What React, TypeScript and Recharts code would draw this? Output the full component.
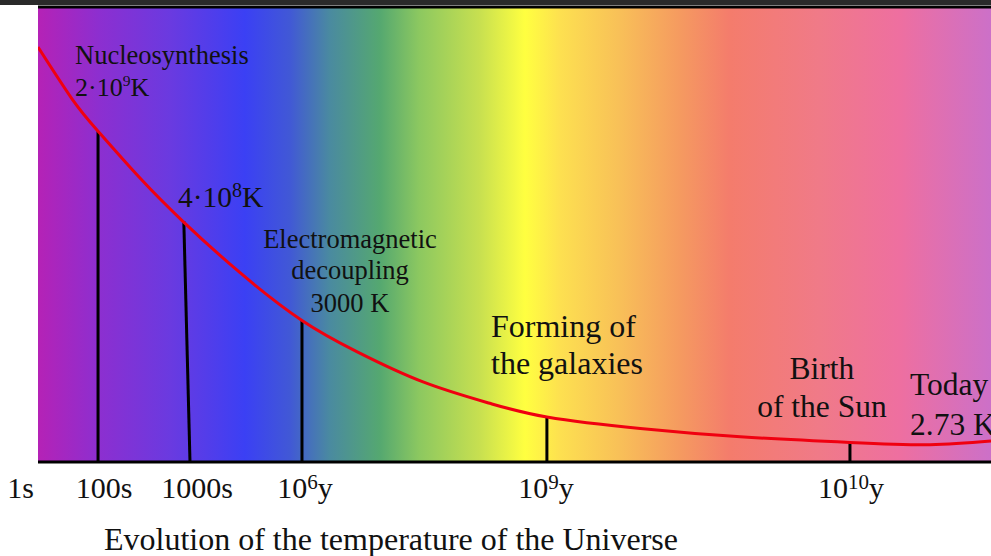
import React from "react";
import {
  ComposedChart,
  Line,
  XAxis,
  YAxis,
  CartesianGrid,
  ReferenceLine,
} from "recharts";

// Position along the (schematic, logarithmic) time axis, 0..100
const curvePos = [0, 3.6, 6.3, 10.7, 15.2, 21.2, 27.7, 33.5, 40.4, 47.4, 53.4, 63.2, 73.7, 85.2, 93.6, 100];
// Relative temperature level, 0..100 (schematic)
const curveTemp = [91.2, 79.7, 72.7, 62.4, 52.9, 41.6, 31.1, 24.2, 17.6, 12.9, 9.9, 7.35, 5.55, 4.3, 3.8, 4.6];

// Event markers (vertical lines from curve down to time axis)
const markerTop = [6.3, 15.3, 27.7, 53.4, 85.2];
const markerBase = [6.3, 15.95, 27.7, 53.4, 85.2];
const markerLevel = [72.7, 52.9, 31.1, 9.9, 4.3];

// Time axis ticks
const tickPos = [0, 6.3, 15.95, 27.7, 53.4, 85.2];
const tickLabels = ["1s", "100s", "1000s", "10^{6}y", "10^{9}y", "10^{10}y"];

// Texts
const titleText = "Evolution of the temperature of the Universe";
const nucleoText = ["Nucleosynthesis", "2·10^{9}K"];
const tempText = "4·10^{8}K";
const decouplingText = ["Electromagnetic", "decoupling", "3000 K"];
const galaxiesText = ["Forming of", "the galaxies"];
const sunText = ["Birth", "of the Sun"];
const todayText = ["Today", "2.73 K"];

const data = curvePos.map((p, i) => ({ pos: p, temp: curveTemp[i] }));

const FONT = '"Liberation Serif", "Times New Roman", serif';
const INK = "#111111";

function rich(str: string, fs: number, scale = 0.68, rise = 0.34) {
  const parts = str.split(/\^\{([^}]*)\}/);
  return parts.map((p, i) =>
    i % 2 === 1 ? (
      <tspan key={i} dy={-rise * fs} fontSize={fs * scale}>
        {p}
      </tspan>
    ) : (
      <tspan key={i} dy={i > 0 ? rise * fs : 0}>
        {p}
      </tspan>
    )
  );
}

const tickNudge = [0, 6, 7, 3, -1, 1];

const AxisTick = (props: any) => {
  const { x, payload } = props;
  const i = tickPos.indexOf(payload.value);
  const label = i >= 0 ? tickLabels[i] : String(payload.value);
  const first = i === 0;
  return (
    <text
      x={first ? x - 4 : x + (tickNudge[i] || 0)}
      y={498}
      textAnchor={first ? "end" : "middle"}
      fontFamily={FONT}
      fontSize={30}
      fill={INK}
    >
      {rich(label, 30, 0.7, 0.3)}
    </text>
  );
};

const stops: [number, string][] = [
  [0, "#b522b6"],
  [0.065, "#8c2fd0"],
  [0.139, "#6a3ae0"],
  [0.217, "#3b40f4"],
  [0.264, "#4158d6"],
  [0.306, "#4a8aa0"],
  [0.359, "#55a870"],
  [0.4, "#8cc860"],
  [0.464, "#c8e050"],
  [0.511, "#ffff40"],
  [0.548, "#fde050"],
  [0.61, "#f8c058"],
  [0.674, "#f59a60"],
  [0.726, "#f47c6c"],
  [0.82, "#f07a88"],
  [0.904, "#ee6fa0"],
  [1, "#cc70c8"],
];

export default function App() {
  return (
    <div style={{ position: "absolute", left: 0, top: 0, width: 991, height: 556, background: "#fff" }}>
      <ComposedChart
        width={991}
        height={556}
        data={data}
        margin={{ top: 7, right: 0, left: 38, bottom: 34 }}
      >
        <defs>
          <linearGradient id="spectrum" x1="0" y1="0" x2="1" y2="0">
            {stops.map(([o, c]) => (
              <stop key={o} offset={o} stopColor={c} />
            ))}
          </linearGradient>
        </defs>
        <rect x={0} y={0} width={991} height={5} fill="#2a2a2a" />
        <CartesianGrid fill="url(#spectrum)" horizontal={false} vertical={false} stroke="none" />
        <XAxis
          type="number"
          dataKey="pos"
          domain={[0, 100]}
          ticks={tickPos}
          tickLine={false}
          axisLine={{ stroke: "#000", strokeWidth: 3 }}
          tick={<AxisTick />}
          height={60}
          interval={0}
          allowDataOverflow
        />
        <YAxis
          type="number"
          domain={[0, 100]}
          width={0}
          tick={false}
          tickLine={false}
          axisLine={{ stroke: "#000", strokeWidth: 3 }}
          allowDataOverflow
        />
        <ReferenceLine y={100} stroke="#000" strokeWidth={3} />
        {markerTop.map((xt, i) => (
          <ReferenceLine
            key={i}
            segment={[
              { x: xt, y: markerLevel[i] },
              { x: markerBase[i], y: 0 },
            ]}
            stroke="#000"
            strokeWidth={3}
          />
        ))}
        <Line
          type="natural"
          dataKey="temp"
          stroke="#f00010"
          strokeWidth={3}
          dot={false}
          activeDot={false}
          isAnimationActive={false}
        />
        <g fontFamily={FONT} fill={INK}>
          <text x={75} y={64} fontSize={26.5}>{rich(nucleoText[0], 26.5)}</text>
          <text x={75} y={96} fontSize={26}>{rich(nucleoText[1], 26, 0.6, 0.38)}</text>
          <text x={178} y={207} fontSize={29.5}>{rich(tempText, 29.5, 0.68, 0.34)}</text>
          <text x={350} y={248} fontSize={26.5} textAnchor="middle">{decouplingText[0]}</text>
          <text x={350} y={279} fontSize={26.5} textAnchor="middle">{decouplingText[1]}</text>
          <text x={350} y={312} fontSize={26.5} textAnchor="middle">{decouplingText[2]}</text>
          <text x={491} y={337} fontSize={32}>{galaxiesText[0]}</text>
          <text x={491} y={374} fontSize={32}>{galaxiesText[1]}</text>
          <text x={822} y={379} fontSize={31.5} textAnchor="middle">{sunText[0]}</text>
          <text x={822} y={417} fontSize={31.5} textAnchor="middle">{sunText[1]}</text>
          <text x={910} y={395} fontSize={31.5}>{todayText[0]}</text>
          <text x={910} y={435} fontSize={31.5}>{todayText[1]}</text>
          <text x={391} y={550} fontSize={32} textAnchor="middle">{titleText}</text>
        </g>
      </ComposedChart>
    </div>
  );
}
